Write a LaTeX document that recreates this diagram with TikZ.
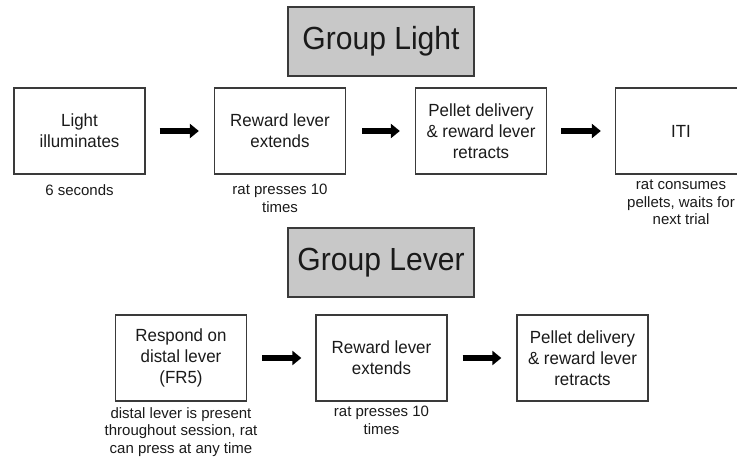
\documentclass[tikz,border=0pt]{standalone}
\usepackage{fontspec}
\setmainfont{Liberation Sans}
\newfontfamily\titlefont[FakeStretch=0.94]{Liberation Sans}
\newfontfamily\boxfont[FakeStretch=0.96]{Liberation Sans}
\usetikzlibrary{arrows.meta}
\definecolor{boxline}{HTML}{3A3A3A}
\definecolor{titlefill}{HTML}{C8C8C8}
\definecolor{textc}{HTML}{1A1A1A}
\begin{document}
\begin{tikzpicture}[x=1pt,y=-1pt,
  stepbox/.style={draw=boxline, line width=1.3pt, minimum width=131pt, minimum height=86pt,
    inner sep=0pt, align=center, text=textc, font=\boxfont\fontsize{17.6}{21}\selectfont},
  titlebox/.style={draw=boxline, fill=titlefill, line width=1.5pt, minimum width=186pt,
    minimum height=69pt, inner sep=0pt, text=textc, font=\titlefont\fontsize{32}{36}\selectfont},
  caption/.style={anchor=north, align=center, inner sep=0pt, text=textc,
    font=\fontsize{15}{17.5}\selectfont},
  flow/.style={line width=6pt, -{Triangle[length=9pt,width=14pt]}}
]
\useasboundingbox (0,0) rectangle (737,458);

% Group Light
\node[titlebox] (gl) at (381,41.5) {Group Light};
\node[stepbox] (a1) at (79.5,131) {Light\\illuminates};
\node[stepbox] (a2) at (280,131) {Reward lever\\extends};
\node[stepbox] (a3) at (481,131) {Pellet delivery\\\& reward lever\\retracts};
\node[stepbox] (a4) at (681,131) {ITI};

\draw[flow, shorten <=14pt, shorten >=15pt] (a1) -- (a2);
\draw[flow, shorten <=16pt, shorten >=15pt] (a2) -- (a3);
\draw[flow, shorten <=14pt, shorten >=14pt] (a3) -- (a4);

\node[caption] (ca1) at (79.5,184) {6 seconds};
\node[caption] (ca2) at (280,184) {rat presses 10\\times};
\node[caption] (ca4) at (681,180) {rat consumes\\pellets, waits for\\next trial};

% Group Lever
\node[titlebox] (gv) at (381,262.5) {Group Lever};
\node[stepbox] (b1) at (181,358) {Respond on\\distal lever\\(FR5)};
\node[stepbox] (b2) at (381.5,358) {Reward lever\\extends};
\node[stepbox] (b3) at (582.5,358) {Pellet delivery\\\& reward lever\\retracts};

\draw[flow, shorten <=15pt, shorten >=14pt] (b1) -- (b2);
\draw[flow, shorten <=15pt, shorten >=15pt] (b2) -- (b3);

\node[caption] (cb1) at (181,407) {distal lever is present\\throughout session, rat\\can press at any time};
\node[caption] (cb2) at (381.5,406) {rat presses 10\\times};
\end{tikzpicture}
\end{document}
